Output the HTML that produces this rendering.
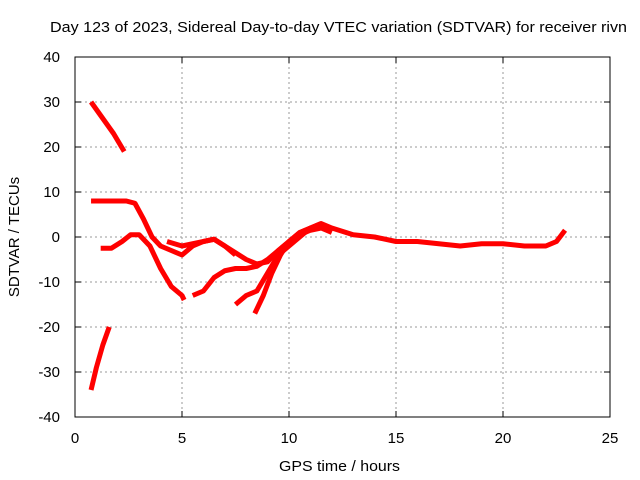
<!DOCTYPE html>
<html><head><meta charset="utf-8"><style>
body{margin:0;background:#fff}
svg{display:block;font-family:"Liberation Sans",sans-serif}
</style></head><body>
<svg id="chart" width="640" height="480">
<rect x="0" y="0" width="640" height="480" fill="#fff"/>
<g id="grid"></g>
<g id="series"></g>
<rect x="75" y="57" width="535" height="360" fill="none" stroke="#000" stroke-width="1"/>
<g id="ticks"></g>
<text x="50" y="32" font-size="15" textLength="577" lengthAdjust="spacingAndGlyphs">Day 123 of 2023, Sidereal Day-to-day VTEC variation (SDTVAR) for receiver rivn</text>
<text x="279" y="471" font-size="15" textLength="121" lengthAdjust="spacingAndGlyphs">GPS time / hours</text>
<text x="19" y="237" text-anchor="middle" font-size="15" transform="rotate(-90 19 237)">SDTVAR / TECUs</text>
</svg>
<script>
const xTicks=[0,5,10,15,20,25];
const yTicks=[-40,-30,-20,-10,0,10,20,30,40];
const seriesA=[[0.75,30],[1.2,27],[1.8,23],[2.3,19]];
const seriesB=[[0.75,-34],[1.0,-29],[1.3,-24],[1.6,-20]];
const seriesC=[[0.75,8],[1.2,8],[1.8,8],[2.4,8],[2.8,7.5],[3.2,4],[3.6,0],[4,-2],[4.5,-3],[5,-4],[5.5,-2],[6,-1],[6.5,-0.5],[7,-2],[7.5,-3.5],[8,-5],[8.5,-6],[9,-5.5],[9.5,-3],[10,-1],[10.5,1],[11,2],[11.5,3],[12,2],[13,0.5],[14,0],[15,-1],[16,-1],[17,-1.5],[18,-2],[19,-1.5],[20,-1.5],[21,-2],[22,-2],[22.5,-1],[22.9,1.5]];
const seriesD=[[1.2,-2.5],[1.7,-2.5],[2.2,-1],[2.6,0.5],[3,0.5],[3.5,-2],[4,-7],[4.5,-11],[5,-13],[5.1,-14]];
const seriesE=[[4.3,-1],[5,-2],[5.5,-1.5],[6,-1],[6.5,-0.5],[7,-2],[7.5,-4]];
const seriesF=[[5.5,-13],[6,-12],[6.5,-9],[7,-7.5],[7.5,-7],[8,-7],[8.5,-6.5],[9,-5],[9.5,-3],[10,-1],[10.5,0.5],[11,1.5],[11.5,2],[12,1]];
const seriesG=[[7.5,-15],[8,-13],[8.5,-12],[9,-8],[9.5,-4],[10,-2],[10.5,0],[11,2],[11.5,3]];
const seriesH=[[8.4,-17],[8.8,-13],[9.2,-8],[9.6,-4],[10,-1],[10.5,1],[11,2]];
const allSeries=[seriesA,seriesB,seriesC,seriesD,seriesE,seriesF,seriesG,seriesH];
const NS="http://www.w3.org/2000/svg";
const X=v=>75+v*(535/25);
const Y=v=>237-v*4.5;
const grid=document.getElementById('grid'),ticks=document.getElementById('ticks'),ser=document.getElementById('series');
function mk(t,a,p){const e=document.createElementNS(NS,t);for(const k in a)e.setAttribute(k,a[k]);p.appendChild(e);return e;}
xTicks.forEach(t=>{
 if(t>0&&t<25){const g=mk('line',{x1:X(t),x2:X(t),y1:57,y2:417,stroke:'#999','stroke-dasharray':'2,3'},grid);
 
 }
 const l=mk('text',{x:X(t),y:443,'text-anchor':'middle','font-size':15},ticks);l.textContent=t;
 
 
 mk('line',{x1:X(t),x2:X(t),y1:417,y2:411,stroke:'#000'},ticks);
 mk('line',{x1:X(t),x2:X(t),y1:57,y2:63,stroke:'#000'},ticks);
});
yTicks.forEach(t=>{
 if(t>-40&&t<40){const g=mk('line',{x1:75,x2:610,y1:Y(t),y2:Y(t),stroke:'#999','stroke-dasharray':'2,3'},grid);
 
 }
 const l=mk('text',{x:60,y:Y(t)+5,'text-anchor':'end','font-size':15},ticks);l.textContent=t;
 
 
 mk('line',{x1:75,x2:81,y1:Y(t),y2:Y(t),stroke:'#000'},ticks);
 mk('line',{x1:604,x2:610,y1:Y(t),y2:Y(t),stroke:'#000'},ticks);
});
allSeries.forEach((s,i)=>{
 const p=mk('polyline',{points:s.map(d=>X(d[0])+','+Y(d[1])).join(' '),fill:'none',stroke:'#f00','stroke-width':5,'stroke-linejoin':'round','stroke-linecap':'butt'},ser);
 
 
});
</script>
</body></html>
